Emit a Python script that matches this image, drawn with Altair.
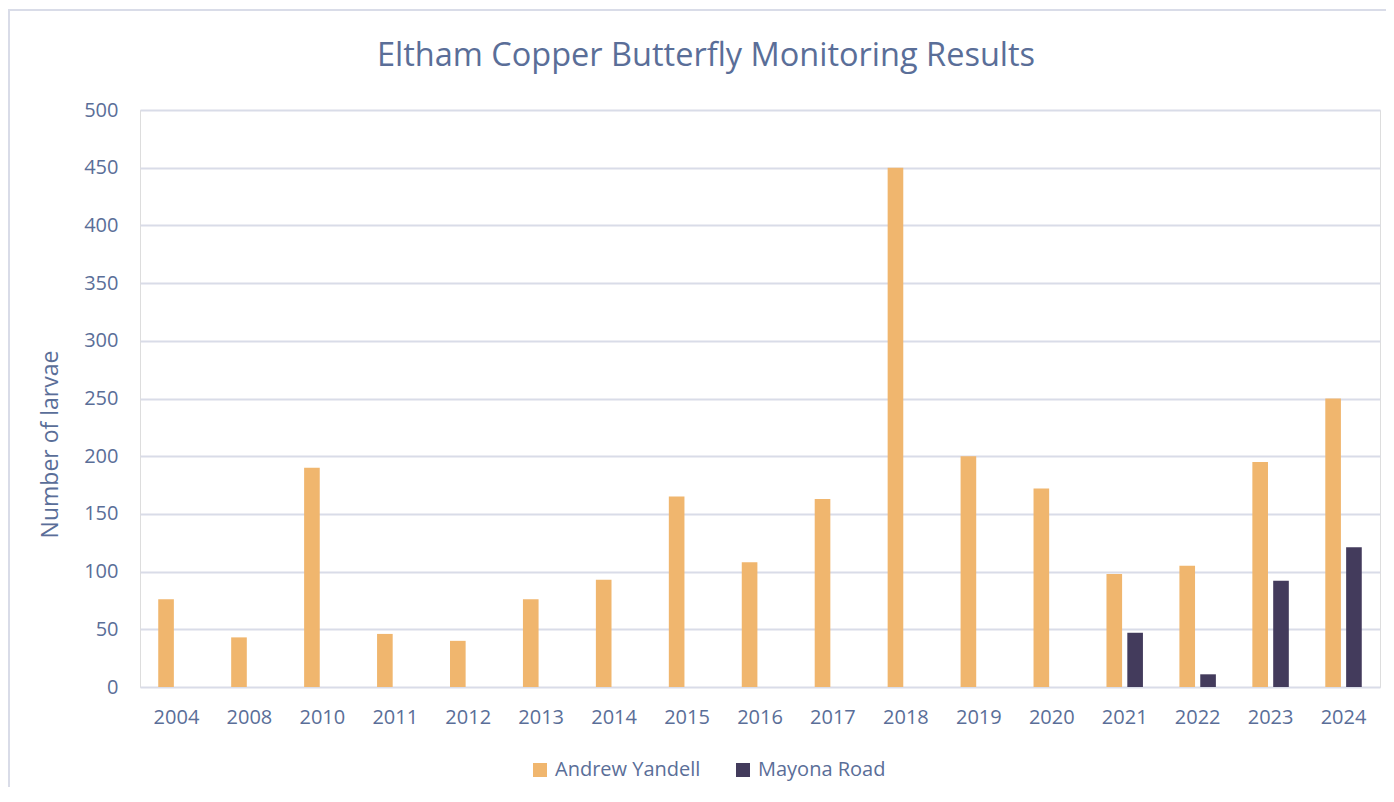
import altair as alt
import pandas as pd

years = ["2004", "2008", "2010", "2011", "2012", "2013", "2014", "2015", "2016",
         "2017", "2018", "2019", "2020", "2021", "2022", "2023", "2024"]
andrew_yandell = [76, 43, 190, 46, 40, 76, 93, 165, 108, 163, 450, 200, 172, 98, 105, 195, 250]
mayona_road = [0, 0, 0, 0, 0, 0, 0, 0, 0, 0, 0, 0, 0, 47, 11, 92, 121]
series = ["Andrew Yandell", "Mayona Road"]
colors = ["#F0B66E", "#433B5C"]
title_text = "Eltham Copper Butterfly Monitoring Results"

rows = []
for i, y in enumerate(years):
    rows.append({"Year": y, "Site": series[0], "Larvae": andrew_yandell[i]})
    rows.append({"Year": y, "Site": series[1], "Larvae": mayona_road[i]})
df = pd.DataFrame(rows)

TXT = "#5A6E98"
FONT = "Open Sans"

bars = alt.Chart(df).mark_bar().encode(
    x=alt.X("Year:N", sort=years,
            scale=alt.Scale(paddingInner=0.5, paddingOuter=0.25),
            axis=alt.Axis(title=None, labelAngle=0, ticks=False, domain=False,
                          labelPadding=20, labelFontSize=20, labelColor=TXT,
                          labelFont=FONT, grid=False)),
    xOffset=alt.XOffset("Site:N", sort=series,
                        scale=alt.Scale(domain=series, paddingInner=0.25, paddingOuter=0)),
    y=alt.Y("Larvae:Q",
            scale=alt.Scale(domain=[0, 500], nice=False),
            axis=alt.Axis(values=list(range(0, 501, 50)), title="Number of larvae",
                          ticks=False, domain=False, labelPadding=22,
                          labelFontSize=20, labelColor=TXT, labelFont=FONT,
                          titleFontSize=23, titleColor=TXT, titleFont=FONT,
                          titleFontWeight="normal", titleX=-90, titleY=334,
                          titleAngle=-90, titleAlign="center", titleBaseline="middle",
                          gridColor="#D9DCE8", gridWidth=2)),
    color=alt.Color("Site:N", sort=series,
                    scale=alt.Scale(domain=series, range=colors),
                    legend=alt.Legend(title=None, orient="none", direction="horizontal",
                                      legendX=390, legendY=650,
                                      symbolType="square", symbolSize=196,
                                      symbolStrokeWidth=0, symbolOpacity=1,
                                      labelFontSize=20, labelColor=TXT, labelFont=FONT,
                                      columnPadding=32, labelOffset=5)),
)

base1 = alt.Chart(pd.DataFrame({"t": [title_text]}))

border = base1.mark_rect(
    fill="transparent", stroke="#D9DCE8", strokeWidth=2
).encode(
    x=alt.value(-131), x2=alt.value(1260), y=alt.value(-100), y2=alt.value(700)
)

title = base1.mark_text(
    fontSize=32.5, color=TXT, font=FONT, align="center", baseline="middle"
).encode(
    text="t:N", x=alt.value(566), y=alt.value(-54)
)

chart = alt.layer(border, bars, title).properties(
    width=1240, height=577,
    padding={"left": 132, "top": 102, "right": 6, "bottom": 100},
    autosize=alt.AutoSizeParams(type="none"),
).configure_view(stroke=None).configure(background="white")

chart.save("out.html", embed_options={"renderer": "svg", "actions": False})
